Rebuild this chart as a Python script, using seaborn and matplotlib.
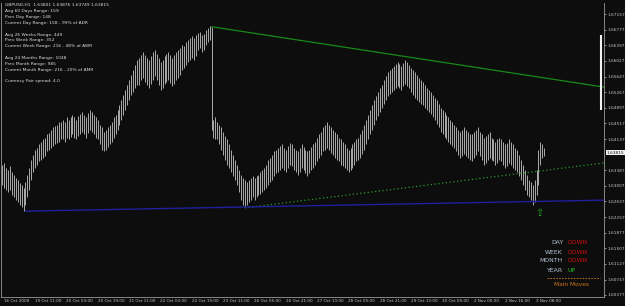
import matplotlib
matplotlib.use("Agg")
import matplotlib.pyplot as plt
import matplotlib.transforms as mtransforms
import numpy as np
import pandas as pd
import seaborn as sns

# ---------------- data (GBPUSD H1) ----------------
high = [
    1.6352, 1.6357, 1.6345, 1.6340, 1.6350, 1.6335, 1.6328, 1.6321, 1.6316, 1.6309,
    1.6304, 1.6297, 1.6311, 1.6328, 1.6345, 1.6364, 1.6376, 1.6388, 1.6393, 1.6401,
    1.6408, 1.6413, 1.6417, 1.6425, 1.6429, 1.6437, 1.6442, 1.6446, 1.6449, 1.6454,
    1.6456, 1.6461, 1.6456, 1.6466, 1.6461, 1.6468, 1.6473, 1.6466, 1.6461, 1.6470,
    1.6475, 1.6480, 1.6473, 1.6466, 1.6478, 1.6485, 1.6480, 1.6473, 1.6466, 1.6461,
    1.6449, 1.6442, 1.6432, 1.6437, 1.6444, 1.6449, 1.6456, 1.6466, 1.6473, 1.6485,
    1.6497, 1.6509, 1.6521, 1.6533, 1.6545, 1.6557, 1.6569, 1.6581, 1.6593, 1.6605,
    1.6610, 1.6617, 1.6625, 1.6617, 1.6610, 1.6605, 1.6615, 1.6625, 1.6630, 1.6620,
    1.6610, 1.6601, 1.6605, 1.6615, 1.6620, 1.6625, 1.6617, 1.6610, 1.6617, 1.6625,
    1.6630, 1.6634, 1.6642, 1.6639, 1.6649, 1.6654, 1.6658, 1.6663, 1.6658, 1.6666,
    1.6670, 1.6673, 1.6666, 1.6668, 1.6678, 1.6683, 1.6687, 1.6685, 1.6461, 1.6466,
    1.6456, 1.6449, 1.6442, 1.6432, 1.6422, 1.6413, 1.6401, 1.6388, 1.6376, 1.6364,
    1.6352, 1.6340, 1.6328, 1.6321, 1.6316, 1.6311, 1.6316, 1.6321, 1.6326, 1.6321,
    1.6326, 1.6328, 1.6335, 1.6340, 1.6345, 1.6352, 1.6364, 1.6369, 1.6376, 1.6384,
    1.6388, 1.6393, 1.6398, 1.6401, 1.6393, 1.6388, 1.6398, 1.6405, 1.6401, 1.6393,
    1.6388, 1.6384, 1.6393, 1.6401, 1.6396, 1.6388, 1.6384, 1.6388, 1.6396, 1.6401,
    1.6408, 1.6417, 1.6425, 1.6432, 1.6442, 1.6449, 1.6456, 1.6449, 1.6442, 1.6437,
    1.6432, 1.6425, 1.6417, 1.6413, 1.6408, 1.6401, 1.6393, 1.6388, 1.6393, 1.6401,
    1.6408, 1.6413, 1.6417, 1.6425, 1.6437, 1.6449, 1.6461, 1.6473, 1.6485, 1.6497,
    1.6509, 1.6519, 1.6528, 1.6538, 1.6545, 1.6557, 1.6567, 1.6576, 1.6581, 1.6586,
    1.6591, 1.6596, 1.6601, 1.6596, 1.6591, 1.6598, 1.6605, 1.6601, 1.6593, 1.6586,
    1.6581, 1.6576, 1.6569, 1.6562, 1.6557, 1.6552, 1.6545, 1.6538, 1.6533, 1.6528,
    1.6521, 1.6514, 1.6509, 1.6499, 1.6490, 1.6485, 1.6480, 1.6473, 1.6466, 1.6461,
    1.6456, 1.6449, 1.6442, 1.6437, 1.6432, 1.6437, 1.6442, 1.6437, 1.6432, 1.6425,
    1.6425, 1.6432, 1.6437, 1.6442, 1.6432, 1.6425, 1.6417, 1.6422, 1.6427, 1.6432,
    1.6417, 1.6413, 1.6408, 1.6413, 1.6417, 1.6413, 1.6408, 1.6401, 1.6405, 1.6413,
    1.6408, 1.6401, 1.6393, 1.6388, 1.6376, 1.6364, 1.6352, 1.6340, 1.6328, 1.6316,
    1.6311, 1.6304, 1.6316, 1.6340, 1.6388, 1.6408, 1.6401, 1.6393,
]
low = [
    1.6304, 1.6297, 1.6292, 1.6287, 1.6292, 1.6280, 1.6273, 1.6268, 1.6261, 1.6256,
    1.6249, 1.6241, 1.6256, 1.6273, 1.6292, 1.6316, 1.6335, 1.6345, 1.6352, 1.6360,
    1.6364, 1.6369, 1.6374, 1.6384, 1.6388, 1.6393, 1.6398, 1.6401, 1.6405, 1.6408,
    1.6413, 1.6413, 1.6408, 1.6417, 1.6413, 1.6420, 1.6425, 1.6417, 1.6413, 1.6422,
    1.6427, 1.6432, 1.6425, 1.6417, 1.6429, 1.6437, 1.6432, 1.6425, 1.6417, 1.6413,
    1.6401, 1.6388, 1.6384, 1.6388, 1.6396, 1.6401, 1.6408, 1.6417, 1.6425, 1.6437,
    1.6449, 1.6461, 1.6473, 1.6485, 1.6497, 1.6509, 1.6521, 1.6528, 1.6538, 1.6545,
    1.6545, 1.6557, 1.6562, 1.6552, 1.6545, 1.6538, 1.6548, 1.6557, 1.6567, 1.6557,
    1.6545, 1.6533, 1.6538, 1.6548, 1.6552, 1.6557, 1.6550, 1.6543, 1.6548, 1.6557,
    1.6562, 1.6569, 1.6581, 1.6586, 1.6593, 1.6601, 1.6605, 1.6610, 1.6605, 1.6615,
    1.6630, 1.6634, 1.6625, 1.6630, 1.6642, 1.6649, 1.6654, 1.6437, 1.6417, 1.6413,
    1.6413, 1.6401, 1.6388, 1.6376, 1.6364, 1.6352, 1.6345, 1.6335, 1.6326, 1.6316,
    1.6304, 1.6287, 1.6268, 1.6256, 1.6249, 1.6254, 1.6261, 1.6268, 1.6273, 1.6268,
    1.6273, 1.6278, 1.6282, 1.6287, 1.6292, 1.6297, 1.6304, 1.6311, 1.6316, 1.6326,
    1.6331, 1.6335, 1.6340, 1.6345, 1.6340, 1.6335, 1.6345, 1.6352, 1.6348, 1.6340,
    1.6335, 1.6328, 1.6335, 1.6345, 1.6340, 1.6331, 1.6326, 1.6331, 1.6340, 1.6345,
    1.6352, 1.6360, 1.6369, 1.6376, 1.6384, 1.6388, 1.6393, 1.6388, 1.6381, 1.6376,
    1.6369, 1.6364, 1.6360, 1.6352, 1.6350, 1.6345, 1.6340, 1.6335, 1.6340, 1.6345,
    1.6352, 1.6360, 1.6364, 1.6369, 1.6379, 1.6388, 1.6401, 1.6413, 1.6425, 1.6437,
    1.6449, 1.6461, 1.6470, 1.6480, 1.6490, 1.6499, 1.6509, 1.6519, 1.6523, 1.6528,
    1.6533, 1.6538, 1.6543, 1.6538, 1.6533, 1.6543, 1.6548, 1.6543, 1.6538, 1.6528,
    1.6521, 1.6514, 1.6509, 1.6504, 1.6499, 1.6495, 1.6490, 1.6485, 1.6480, 1.6475,
    1.6466, 1.6461, 1.6451, 1.6442, 1.6432, 1.6425, 1.6420, 1.6413, 1.6408, 1.6403,
    1.6398, 1.6393, 1.6384, 1.6376, 1.6369, 1.6374, 1.6379, 1.6374, 1.6369, 1.6364,
    1.6360, 1.6369, 1.6376, 1.6384, 1.6374, 1.6364, 1.6352, 1.6357, 1.6364, 1.6369,
    1.6364, 1.6360, 1.6352, 1.6357, 1.6364, 1.6360, 1.6352, 1.6345, 1.6350, 1.6357,
    1.6352, 1.6345, 1.6340, 1.6335, 1.6326, 1.6316, 1.6304, 1.6292, 1.6280, 1.6273,
    1.6268, 1.6256, 1.6263, 1.6280, 1.6304, 1.6352, 1.6369, 1.6372,
]

price_ticks = [1.60377, 1.60747, 1.61127, 1.61507, 1.61877, 1.62257, 1.62637, 1.63007,
               1.63387, 1.64137, 1.64517, 1.64897, 1.65267, 1.65647, 1.66027, 1.66397,
               1.66777, 1.67157]
current_price = 1.63815

time_tick_bars = [0, 16, 32, 48, 64, 80, 96, 112, 128, 144, 160, 176, 192, 208, 224, 240, 256, 272]
time_labels = ["16 Oct 2009", "19 Oct 11:00", "20 Oct 03:00", "20 Oct 19:00", "21 Oct 11:00",
               "22 Oct 03:00", "22 Oct 19:00", "23 Oct 11:00", "26 Oct 05:00", "26 Oct 21:00",
               "27 Oct 13:00", "28 Oct 05:00", "28 Oct 21:00", "29 Oct 13:00", "30 Oct 05:00",
               "2 Nov 00:00", "2 Nov 16:00", "3 Nov 08:00"]

# trend lines: anchor (bar, price) pairs
green_anchor_bars = [107, 290]
green_anchor_prices = [1.6685, 1.6552]
dotted_anchor_bars = [124, 290]
dotted_anchor_prices = [1.6248, 1.6346]
blue_anchor_bars = [12, 290]
blue_anchor_prices = [1.6240, 1.6265]

# range marker at the right edge (bar, low, high)
range_bar = 306.0
range_low = 1.6484
range_high = 1.6665

info_lines = [
    "GBPUSD,H1  1.63801 1.63876 1.63749 1.63815",
    "Avg 60 Days Range: 159",
    "Prev Day Range: 148",
    "Current Day Range: 158 - 99% of ADR",
    "",
    "Avg 26 Weeks Range: 449",
    "Prev Week Range: 352",
    "Current Week Range: 216 - 48% of AWR",
    "",
    "Avg 24 Months Range: 1048",
    "Prev Month Range: 985",
    "Current Month Range: 216 - 20% of AMR",
    "",
    "Currency Pair spread: 4.0",
]
move_periods = ["DAY", "WEEK", "MONTH", "YEAR"]
move_dirs = ["DOWN", "DOWN", "DOWN", "UP"]

# ---------------- figure ----------------
sns.set_style("dark")
BG = "#0d0d0d"
plt.rcParams["font.family"] = ["DejaVu Sans"]
W, H = 625, 306
fig = plt.figure(figsize=(W / 100, H / 100), dpi=100, facecolor=BG)

L, R, T, B = 1, 604, 3, 297
ax = fig.add_axes([L / W, (H - B) / H, (R - L) / W, (B - T) / H])
ax.set_facecolor(BG)

bar_px = 1.958
x0_px = 2.0
xmin = (L - x0_px) / bar_px
xmax = (R - x0_px) / bar_px
ax.set_xlim(xmin, xmax)
p_per_px = (1.67157 - 1.60377) / (295 - 14)
ax.set_ylim(1.60377 - (B - 295) * p_per_px, 1.67157 + (14 - T) * p_per_px)

df = pd.DataFrame({"bar": np.arange(len(high)), "high": high, "low": low})
ax.vlines(df["bar"], df["low"], df["high"], colors="#ababab", linewidth=0.7)


def ray(bars, prices):
    slope = (prices[1] - prices[0]) / (bars[1] - bars[0])
    xs = [bars[0], xmax]
    ys = [prices[0], prices[0] + slope * (xmax - bars[0])]
    return pd.DataFrame({"x": xs, "y": ys})


g = ray(green_anchor_bars, green_anchor_prices)
sns.lineplot(data=g, x="x", y="y", ax=ax, color="#178a17", linewidth=0.9, estimator=None)
d = ray(dotted_anchor_bars, dotted_anchor_prices)
sns.lineplot(data=d, x="x", y="y", ax=ax, color="#2a9a2a", linewidth=0.9,
             linestyle=(0, (1, 2)), estimator=None)
b = ray(blue_anchor_bars, blue_anchor_prices)
sns.lineplot(data=b, x="x", y="y", ax=ax, color="#20209c", linewidth=1.0, estimator=None)

ax.vlines([range_bar], [range_low], [range_high], colors="#f0f0f0", linewidth=1.5)

# up arrow under the last low
ax.text(274.5, 1.6236, "\u21e7", color="#23b023", fontsize=7, ha="center", va="center")

# axes styling
for s in ax.spines.values():
    s.set_color("#9a9a9a")
    s.set_linewidth(0.6)
ax.spines["top"].set_visible(False)
ax.set_xlabel("")
ax.set_ylabel("")
ax.grid(False)

ax.yaxis.tick_right()
ax.set_yticks(price_ticks)
ax.set_yticklabels([f"{p:.5f}" for p in price_ticks])
ax.tick_params(axis="y", colors="#bcbcbc", labelsize=3.1, length=1.5, width=0.5, pad=0.8,
               labelcolor="#c8c8c8")

ax.set_xticks(time_tick_bars)
ax.set_xticklabels([])
ax.tick_params(axis="x", colors="#bcbcbc", length=2.5, width=0.5, direction="out")
trans = mtransforms.blended_transform_factory(ax.transData, ax.transAxes)
for tb, lab in zip(time_tick_bars, time_labels):
    ax.text(tb + 0.9, -0.008, lab, transform=trans, fontsize=3.0, color="#c8c8c8",
            ha="left", va="top")

# current price box
ax.text(1.004, current_price, f"{current_price:.5f}",
        transform=mtransforms.blended_transform_factory(ax.transAxes, ax.transData),
        fontsize=3.1, color="#111111", ha="left", va="center",
        bbox=dict(boxstyle="square,pad=0.15", fc="#f2f2f2", ec="none"))

# top-left info text
y = 5.5
for line in info_lines:
    if line:
        fig.text(5 / W, 1 - y / H, line, fontsize=3.2, color="#dcdcdc", ha="left", va="center")
    y += 5.8 if line else 5.9

# Main moves panel
rows_y = [242, 252, 261, 271]
for period, direction, ry in zip(move_periods, move_dirs, rows_y):
    fig.text(563 / W, 1 - ry / H, period, fontsize=4.4, color="#b7c3d6", ha="right", va="center")
    fig.text(567 / W, 1 - ry / H, direction, fontsize=4.4,
             color="#d01010" if direction == "DOWN" else "#20c020", ha="left", va="center")
fig.add_artist(plt.Line2D([547 / W, 600 / W], [1 - 278 / H, 1 - 278 / H], color="#d2781e",
                          linewidth=0.6, linestyle=(0, (2, 1.5))))
fig.text(571 / W, 1 - 284 / H, "Main Moves", fontsize=4.2, color="#d2781e", ha="center", va="center")

fig.savefig("out.png", dpi=100, facecolor=BG)
